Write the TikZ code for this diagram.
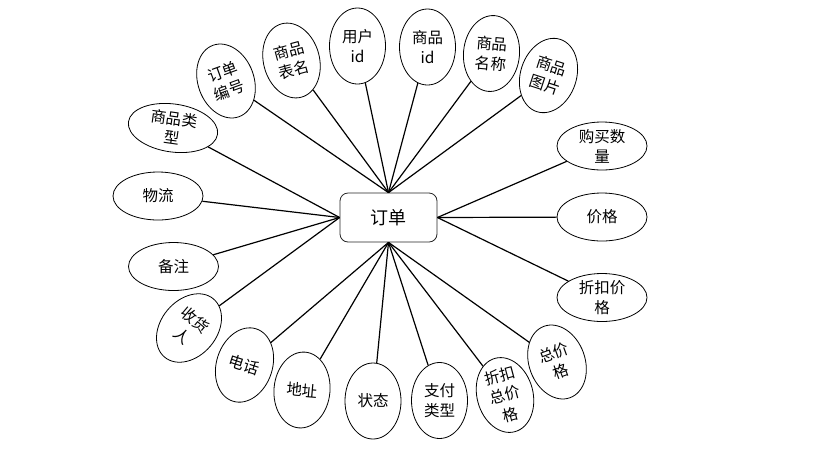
\documentclass[tikz,border=0pt]{standalone}
\usepackage{fontspec}
\newfontfamily\cjk{Noto Sans CJK SC}
\usetikzlibrary{shapes.geometric}
\begin{document}
\begin{tikzpicture}[x=1pt,y=-1pt,
  attr/.style={ellipse,draw=black,line width=0.8pt,fill=white,inner sep=-8pt,align=center,
    font=\cjk\fontsize{15.5}{20}\selectfont},
  tall/.style={attr,minimum width=56pt,minimum height=76pt},
  wide/.style={attr,minimum width=90pt,minimum height=48pt},
  entity/.style={rectangle,rounded corners=8pt,draw=black!85,line width=0.8pt,fill=white,
    minimum width=97pt,minimum height=49pt,font=\cjk\fontsize{18}{20}\selectfont},
  link/.style={line width=1.2pt,black}]
\useasboundingbox (0,0) rectangle (816,451);
\node[entity] (order) at (388.5,217.5) {订单};
% top
\node[tall,rotate=20] (bh) at (226,81) {订单\\编号};
\node[tall,rotate=15] (bm) at (291.5,60.5) {商品\\表名};
\node[tall] (uid) at (357.5,46) {用户\\id};
\node[tall] (gid) at (427.5,47) {商品\\id};
\node[tall,rotate=-5] (gname) at (491.5,53.5) {商品\\名称};
\node[tall,rotate=-18] (gpic) at (548.5,75.5) {商品\\图片};
% left
\node[wide,rotate=-8] (gtype) at (173,128) {商品类\\型};
\node[wide] (wl) at (158,196) {物流};
\node[wide] (bz) at (173.5,266.5) {备注};
\node[tall,rotate=-40] (shr) at (189,328) {收货\\人};
% bottom
\node[tall,rotate=-18] (dh) at (244.5,365) {电话};
\node[tall,rotate=-5] (dz) at (302,390) {地址};
\node[tall] (zt) at (373,401) {状态};
\node[tall] (zflx) at (439.5,400.5) {支付\\类型};
\node[tall,rotate=15] (zkzj) at (505,395) {折扣\\总价\\格};
\node[tall,rotate=20] (zj) at (557,362) {总价\\格};
% right
\node[wide] (gmsl) at (602,146) {购买数\\量};
\node[wide] (jg) at (602,217) {价格};
\node[wide] (zkjg) at (602,297.5) {折扣价\\格};
% links
\foreach \n in {bh,bm,uid,gid,gname,gpic} \draw[link] (order.north) -- (\n);
\foreach \n in {gtype,wl,bz,shr} \draw[link] (order.west) -- (\n);
\foreach \n in {dh,dz,zt,zflx,zkzj,zj} \draw[link] (order.south) -- (\n);
\foreach \n in {gmsl,jg,zkjg} \draw[link] (order.east) -- (\n);
\end{tikzpicture}
\end{document}
